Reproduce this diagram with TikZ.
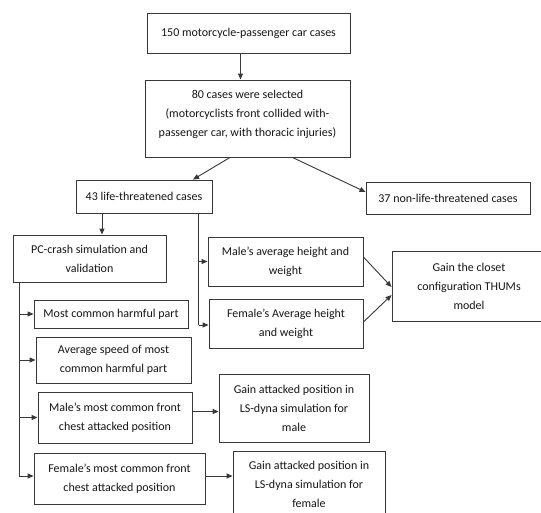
\documentclass[tikz,border=0pt]{standalone}
\usepackage{fontspec}
\setmainfont{Carlito}
\usetikzlibrary{arrows.meta}
\definecolor{linec}{HTML}{383838}
\definecolor{textc}{HTML}{161616}
\tikzset{
  box/.style={draw=linec, line width=0.9pt, fill=white, text=textc, inner sep=0pt, align=center,
    font=\fontsize{12}{19}\selectfont},
  arr/.style={draw=linec, line width=0.9pt, -{Triangle[length=6pt,width=5pt]}},
  ln/.style={draw=linec, line width=0.9pt}
}
\begin{document}
\begin{tikzpicture}[x=1pt,y=-1pt]
\useasboundingbox (0,0) rectangle (541,512);
\clip (0,0) rectangle (541,512);
\fill[white] (0,0) rectangle (541,512);

\node[box, minimum width=203pt, minimum height=40pt] (top) at (248.5,33) {150 motorcycle-passenger car cases};
\node[box, minimum width=205pt, minimum height=77pt] (sel) at (247.5,118.5) {80 cases were selected\\(motorcyclists front collided with-\\passenger car, with thoracic injuries)\\[-9pt]};
\node[box, minimum width=136pt, minimum height=33pt] (lt) at (144,196.5) {43 life-threatened cases};
\node[box, minimum width=164pt, minimum height=32pt] (nlt) at (448,198) {37 non-life-threatened cases};
\node[box, minimum width=153pt, minimum height=47pt] (pc) at (89.5,258.5) {PC-crash simulation and\\validation};
\node[box, minimum width=155pt, minimum height=49pt] (male) at (285.5,261.5) {Male’s average height and\\weight};
\node[box, minimum width=154pt, minimum height=49pt] (female) at (286,323.5) {Female’s Average height\\and weight};
\node[box, minimum width=154pt, minimum height=70pt] (thums) at (469,286) {Gain the closet\\configuration THUMs\\model};
\node[box, minimum width=154pt, minimum height=28pt] (harm) at (111,314) {Most common harmful part};
\node[box, minimum width=155pt, minimum height=46pt] (avg) at (113.5,360) {Average speed of most\\common harmful part};
\node[box, minimum width=154pt, minimum height=51pt] (mmost) at (115,417.5) {Male’s most common front\\chest attacked position};
\node[box, minimum width=150pt, minimum height=68pt] (gmale) at (294,408) {Gain attacked position in\\LS-dyna simulation for\\male};
\node[box, minimum width=171pt, minimum height=51pt] (fmost) at (119.5,478.5) {Female’s most common front\\chest attacked position};
\node[box, minimum width=152pt, minimum height=66pt] (gfem) at (309,484) {Gain attacked position in\\LS-dyna simulation for\\female};

% top chain
\coordinate (t1) at ([xshift=-8pt]top.south);
\draw[arr] (t1) -- (t1 |- sel.north);
\draw[arr] ([xshift=-17.5pt]sel.south) -- ([xshift=49pt]lt.north);
\draw[arr] ([xshift=45pt]sel.south) -- ([yshift=6pt]nlt.west);

% 43 -> PC
\coordinate (l1) at ([xshift=-42pt]lt.south);
\draw[arr] (l1) -- (l1 |- pc.north);

% 43 -> male / female
\coordinate (rb) at ([xshift=54.5pt]lt.south);
\coordinate (rf) at ([yshift=-1.5pt]female.west);
\draw[ln] (rb) -- (rb |- rf);
\draw[arr] (rb |- male.west) -- (male.west);
\draw[arr] (rb |- rf) -- (rf);

% male / female -> THUMs
\draw[arr] ([yshift=4.5pt]male.east) -- ([yshift=-1pt]thums.west);
\draw[arr] ([yshift=1.5pt]female.east) -- ([yshift=-9pt]thums.west);

% PC -> list
\coordinate (lb) at ([xshift=-70.5pt]pc.south);
\coordinate (lf) at ([yshift=2.5pt]fmost.west);
\draw[ln] (lb) -- (lb |- lf);
\draw[arr] (lb |- harm.west) -- (harm.west);
\draw[arr] (lb |- avg.west) -- (avg.west);
\draw[arr] (lb |- mmost.west) -- (mmost.west);
\draw[arr] (lb |- lf) -- (lf);

% to gain boxes
\coordinate (m1) at ([yshift=6pt]mmost.east);
\draw[arr] (m1) -- (m1 -| gmale.west);
\coordinate (f1) at ([yshift=2.5pt]fmost.east);
\draw[arr] (f1) -- (f1 -| gfem.west);
\end{tikzpicture}
\end{document}
